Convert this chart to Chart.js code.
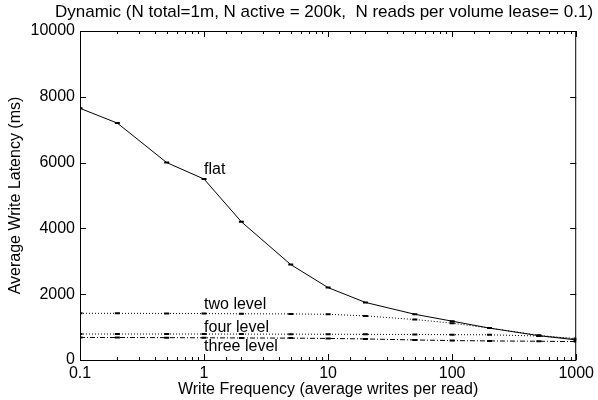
<!DOCTYPE html>
<html>
<head>
<meta charset="utf-8">
<script src="https://cdn.jsdelivr.net/npm/chart.js@4/dist/chart.umd.min.js"></script>
<style>
  body { margin: 0; background: #fff; }
  canvas { display: block; }
</style>
</head>
<body>
<canvas id="myChart" width="598" height="400"></canvas>
<script>
const writeFreq = [0.1, 0.2, 0.5, 1, 2, 5, 10, 20, 50, 100, 200, 500, 1000];
const flat       = [7650, 7200, 6000, 5500, 4200, 2900, 2200, 1750, 1390, 1180, 970, 740, 610];
const twoLevel   = [1420, 1418, 1415, 1410, 1405, 1400, 1390, 1340, 1230, 1120, 970, 750, 640];
const fourLevel  = [790, 790, 790, 790, 788, 786, 783, 780, 775, 770, 765, 730, 650];
const threeLevel = [685, 683, 680, 675, 670, 665, 655, 640, 610, 590, 580, 570, 560];
const yTicks = [0, 2000, 4000, 6000, 8000, 10000];
const xLabels = [0.1, 1, 10, 100, 1000];

const titleText = 'Dynamic (N total=1m, N active = 200k,  N reads per volume lease= 0.1)';
// label text, anchor x, anchor y (data units)
const curveLabels = [
    ['flat', 1, 5780],
    ['two level', 1, 1670],
    ['four level', 1, 1000],
    ['three level', 1, 420]
];

const FAMILY = '"Liberation Sans", Arial, sans-serif';
const FONT = '16px ' + FAMILY;

function pts(ys) {
    return writeFreq.map((x, i) => ({x: x, y: ys[i]}));
}

function series(label, ys, dash) {
    return {
        label: label,
        data: pts(ys),
        borderColor: '#000',
        borderWidth: 1,
        borderDash: dash,
        pointStyle: 'line',
        pointRadius: 2.5,
        pointBorderWidth: 2,
        pointBorderColor: '#000',
        pointBackgroundColor: '#000',
        tension: 0
    };
}

// frame, inward ticks, title, curve labels
const gnuplotLook = {
    id: 'gnuplotLook',
    afterDraw(chart) {
        const ctx = chart.ctx;
        const a = chart.chartArea;
        const xs = chart.scales.x;
        const ys = chart.scales.y;
        ctx.save();
        ctx.strokeStyle = '#000';
        ctx.lineWidth = 1;
        ctx.strokeRect(a.left + 0.5, a.top + 0.5, a.right - a.left - 1, a.bottom - a.top);

        ctx.beginPath();
        xs.ticks.forEach(t => {
            const px = Math.round(xs.getPixelForValue(t.value)) + 0.5;
            const len = xLabels.includes(t.value) ? 6 : 3;
            ctx.moveTo(px, a.bottom);
            ctx.lineTo(px, a.bottom - len);
            ctx.moveTo(px, a.top);
            ctx.lineTo(px, a.top + len);
        });
        yTicks.forEach(v => {
            const py = Math.round(ys.getPixelForValue(v)) + 0.5;
            ctx.moveTo(a.left, py);
            ctx.lineTo(a.left + 6, py);
            ctx.moveTo(a.right, py);
            ctx.lineTo(a.right - 6, py);
        });
        ctx.stroke();

        ctx.fillStyle = '#000';
        ctx.font = '17px ' + FAMILY;
        ctx.textAlign = 'center';
        ctx.textBaseline = 'middle';
        ctx.fillText(titleText, 324, 12);

        ctx.font = FONT;
        ctx.textAlign = 'left';
        curveLabels.forEach(l => {
            ctx.fillText(l[0], xs.getPixelForValue(l[1]), ys.getPixelForValue(l[2]));
        });
        ctx.restore();
    }
};

const chartCtx = document.getElementById('myChart').getContext('2d');
const latencyChart = new Chart(chartCtx, {
    type: 'line',
    data: {
        datasets: [
            series('flat', flat, []),
            series('two level', twoLevel, [1, 2]),
            series('four level', fourLevel, [1, 2]),
            series('three level', threeLevel, [5, 2, 1, 2])
        ]
    },
    options: {
        responsive: false,
        animation: false,
        layout: { padding: { top: 31, right: 20, left: 0, bottom: 0 } },
        plugins: {
            legend: { display: false },
            title: { display: false },
            tooltip: { enabled: false }
        },
        scales: {
            x: {
                type: 'logarithmic',
                min: 0.1,
                max: 1000,
                afterFit(scale) { scale.height = 40; },
                grid: { display: false, drawTicks: false },
                border: { display: false },
                ticks: {
                    autoSkip: false,
                    maxRotation: 0,
                    padding: 4,
                    color: '#000',
                    font: { family: FAMILY, size: 16 },
                    callback: v => xLabels.includes(v) ? String(v) : ''
                },
                title: {
                    display: true,
                    text: 'Write Frequency (average writes per read)',
                    color: '#000',
                    font: { family: FAMILY, size: 16 },
                    padding: { top: 0, bottom: 1 }
                }
            },
            y: {
                min: 0,
                max: 10000,
                afterFit(scale) { scale.width = 80; },
                grid: { display: false, drawTicks: false },
                border: { display: false },
                ticks: {
                    stepSize: 2000,
                    padding: 5,
                    color: '#000',
                    font: { family: FAMILY, size: 16 },
                    callback: v => String(v)
                },
                title: {
                    display: true,
                    text: 'Average Write Latency (ms)',
                    color: '#000',
                    font: { family: FAMILY, size: 16 },
                    padding: { top: 6, bottom: 0 }
                }
            }
        }
    },
    plugins: [gnuplotLook]
});
</script>
</body>
</html>
